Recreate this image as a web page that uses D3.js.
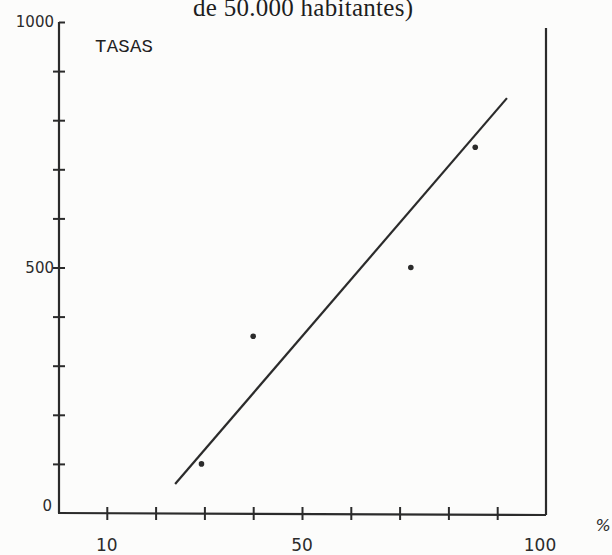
<!DOCTYPE html>
<html>
<head>
<meta charset="utf-8">
<script src="https://cdn.jsdelivr.net/npm/d3@7"></script>
<style>
  html, body { margin: 0; padding: 0; background: #fcfcfb; }
  svg { display: block; }
</style>
</head>
<body>
<svg id="chart" width="612" height="555"></svg>
<script>
// Share of population (%) against rates, with fitted line
const pointX = [29.4, 40.0, 72.3, 85.5];
const pointY = [100, 360, 500, 745];
const fitX = [24.0, 92.0];
const fitY = [59, 845];

const xTickValues = [10, 20, 30, 40, 50, 60, 70, 80, 90];
const xLabelValues = [10, 50, 100];
const xTickLabels = ["10", "50", "100"];
const yTickValues = [100, 200, 300, 400, 500, 600, 700, 800, 900, 1000];
const yLabelValues = [0, 500, 1000];
const yTickLabels = ["0", "500", "1000"];

const titleText = "de 50.000 habitantes)";
const yTitle = "TASAS";
const xUnit = "%";

const ink = "#2b2b2b";
const svg = d3.select("#chart");

const x = d3.scaleLinear().domain([0, 100]).range([58, 546]);
const y = d3.scaleLinear().domain([0, 1000]).range([513, 22]);

// title (partially above the page edge)
svg.append("text")
  .attr("x", 303).attr("y", 16)
  .attr("text-anchor", "middle")
  .attr("font-family", "'Liberation Serif', 'Times New Roman', serif")
  .attr("font-size", 25)
  .attr("textLength", 220)
  .attr("fill", "#1e1e1e")
  .text(titleText);

// y axis with crossing ticks
const yAxis = svg.append("g")
  .attr("transform", `translate(${x(0) + 1},0)`)
  .call(d3.axisLeft(y).tickValues(yTickValues).tickSize(6).tickFormat(() => ""));
yAxis.select(".domain").remove();
yAxis.selectAll(".tick line")
  .attr("x1", d => d === 1000 ? 0 : -6)
  .attr("x2", 6)
  .attr("stroke", ink).attr("stroke-width", 2);
svg.append("line")
  .attr("x1", x(0) + 1).attr("x2", x(0) + 1)
  .attr("y1", y(1000)).attr("y2", y(0))
  .attr("stroke", ink).attr("stroke-width", 2.2);

// y labels
svg.append("g").selectAll("text")
  .data(yLabelValues)
  .join("text")
  .attr("x", d => d === 0 ? 52 : 54)
  .attr("y", d => y(d) + (d === 0 ? -2 : 5))
  .attr("text-anchor", "end")
  .attr("font-family", "'DejaVu Sans', sans-serif")
  .attr("font-size", 15)
  .attr("fill", ink)
  .text((d, i) => yTickLabels[i]);

// x axis with crossing ticks
const xAxis = svg.append("g")
  .attr("transform", `translate(0,${y(0)})`)
  .call(d3.axisBottom(x).tickValues(xTickValues).tickSize(7).tickFormat(() => ""));
xAxis.select(".domain").remove();
xAxis.selectAll(".tick line")
  .attr("y1", -6).attr("y2", 7)
  .attr("stroke", ink).attr("stroke-width", 2);
svg.append("line")
  .attr("x1", x(0)).attr("x2", x(100))
  .attr("y1", y(0)).attr("y2", y(0) + 2)
  .attr("stroke", ink).attr("stroke-width", 2.2);

// right frame
svg.append("line")
  .attr("x1", x(100)).attr("x2", x(100))
  .attr("y1", 28).attr("y2", y(0) + 2)
  .attr("stroke", ink).attr("stroke-width", 2.2);

// x labels
svg.append("g").selectAll("text")
  .data(xLabelValues)
  .join("text")
  .attr("x", d => x(d) - (d === 100 ? 6 : 0))
  .attr("y", y(0) + 38)
  .attr("text-anchor", "middle")
  .attr("font-family", "'DejaVu Sans', sans-serif")
  .attr("font-size", 17)
  .attr("fill", ink)
  .text((d, i) => xTickLabels[i]);

// unit and axis title
svg.append("text")
  .attr("x", 603).attr("y", 531)
  .attr("text-anchor", "middle")
  .attr("font-family", "'DejaVu Sans', sans-serif")
  .attr("font-style", "italic")
  .attr("font-size", 16)
  .attr("fill", ink)
  .text(xUnit);

svg.append("text")
  .attr("x", 95).attr("y", 52)
  .attr("font-family", "'Liberation Mono', 'DejaVu Sans Mono', monospace")
  .attr("font-size", 19)
  .attr("textLength", 58)
  .attr("fill", "#222")
  .text(yTitle);

// fitted line
svg.append("line")
  .attr("x1", x(fitX[0])).attr("y1", y(fitY[0]))
  .attr("x2", x(fitX[1])).attr("y2", y(fitY[1]))
  .attr("stroke", ink).attr("stroke-width", 2.2);

// observations
svg.append("g").selectAll("circle")
  .data(pointX.map((v, i) => [v, pointY[i]]))
  .join("circle")
  .attr("cx", d => x(d[0]))
  .attr("cy", d => y(d[1]))
  .attr("r", 2.8)
  .attr("fill", ink);
</script>
</body>
</html>
